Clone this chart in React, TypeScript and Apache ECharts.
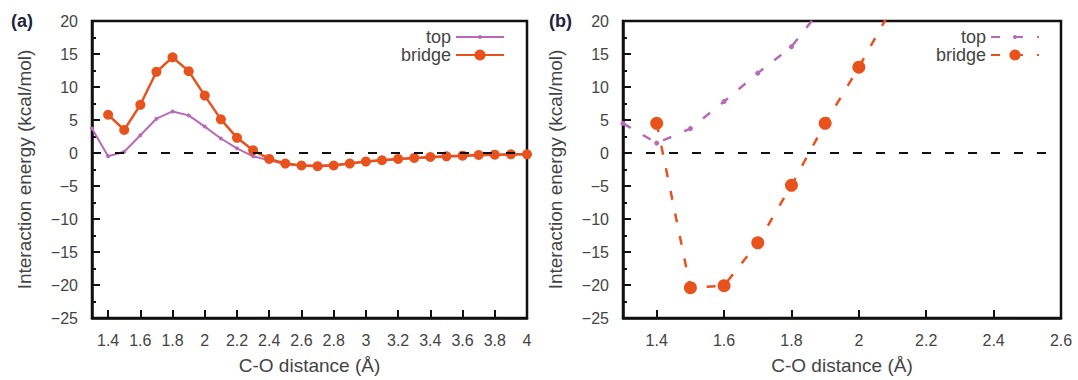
import React, { useEffect, useRef } from "react";
import * as echarts from "echarts";

// Panel (a)
const xTopA = [1.3, 1.4, 1.5, 1.6, 1.7, 1.8, 1.9, 2.0, 2.1, 2.2, 2.3, 2.4, 2.5, 2.6, 2.7, 2.8, 2.9, 3.0, 3.1, 3.2, 3.3, 3.4, 3.5, 3.6, 3.7, 3.8, 3.9, 4.0];
const yTopA = [3.7, -0.5, 0.2, 2.7, 5.2, 6.3, 5.7, 4.0, 2.2, 0.7, -0.5, -1.1, -1.7, -1.9, -1.9, -1.8, -1.6, -1.3, -1.1, -0.9, -0.8, -0.7, -0.55, -0.45, -0.35, -0.3, -0.25, -0.2];
const xBridgeA = [1.4, 1.5, 1.6, 1.7, 1.8, 1.9, 2.0, 2.1, 2.2, 2.3, 2.4, 2.5, 2.6, 2.7, 2.8, 2.9, 3.0, 3.1, 3.2, 3.3, 3.4, 3.5, 3.6, 3.7, 3.8, 3.9, 4.0];
const yBridgeA = [5.8, 3.5, 7.3, 12.3, 14.5, 12.4, 8.7, 5.1, 2.3, 0.4, -0.9, -1.6, -1.9, -2.0, -1.9, -1.6, -1.3, -1.1, -0.9, -0.75, -0.6, -0.5, -0.4, -0.3, -0.25, -0.2, -0.2];

// Panel (b)
const xTopB = [1.3, 1.4, 1.5, 1.6, 1.7, 1.8, 1.9];
const yTopB = [4.5, 1.5, 3.7, 7.8, 12.1, 16.1, 22.6];
const xBridgeB = [1.4, 1.5, 1.6, 1.7, 1.8, 1.9, 2.0, 2.1];
const yBridgeB = [4.5, -20.4, -20.1, -13.6, -4.9, 4.5, 13.0, 22.1];

const xTicksA = [1.4, 1.6, 1.8, 2.0, 2.2, 2.4, 2.6, 2.8, 3.0, 3.2, 3.4, 3.6, 3.8, 4.0];
const xTicksB = [1.4, 1.6, 1.8, 2.0, 2.2, 2.4, 2.6];

const TOP_COLOR = "#b86ab8";
const BRIDGE_COLOR = "#e8521c";
const FONT = "'Liberation Sans', Arial, sans-serif";

const zip = (xs: number[], ys: number[]) => xs.map((x, i) => [x, ys[i]]);

function xAxisCfg(gridIndex: number, max: number, ticks: number[]) {
  return {
    type: "value",
    gridIndex,
    min: 1.3,
    max,
    axisLine: { show: true, onZero: false, lineStyle: { color: "#111", width: 2.5 } },
    axisTick: { show: true, inside: true, length: 8, customValues: ticks, lineStyle: { color: "#111", width: 2 } },
    axisLabel: {
      customValues: ticks,
      formatter: (v: number) => String(+v.toFixed(1)),
      fontSize: 16,
      color: "#444",
      margin: 14,
      fontFamily: FONT,
    },
    splitLine: { show: false },
    name: "C-O distance (Å)",
    nameLocation: "middle",
    nameGap: 38,
    nameTextStyle: { fontSize: 19, color: "#444", fontFamily: FONT },
  };
}

function yAxisCfg(gridIndex: number) {
  return {
    type: "value",
    gridIndex,
    min: -25,
    max: 20,
    interval: 5,
    axisLine: { show: true, onZero: false, lineStyle: { color: "#111", width: 2.5 } },
    axisTick: { show: true, inside: true, length: 8, lineStyle: { color: "#111", width: 2 } },
    minorTick: { show: true, splitNumber: 2, length: 4, lineStyle: { color: "#111", width: 2 } },
    axisLabel: {
      formatter: (v: number) => (v < 0 ? "\u2212" + Math.abs(v) : String(v)),
      fontSize: 16,
      color: "#444",
      margin: 14,
      fontFamily: FONT,
    },
    splitLine: { show: false },
    name: "Interaction energy (kcal/mol)",
    nameLocation: "middle",
    nameGap: 58,
    nameRotate: 90,
    nameTextStyle: { fontSize: 19, color: "#444", fontFamily: FONT },
  };
}

const zeroLine = {
  silent: true,
  symbol: "none",
  label: { show: false },
  lineStyle: { color: "#111", type: [9, 14], width: 2 },
  data: [{ yAxis: 0 }],
};

function legendCfg(name: string, right: number, top: number, itemHeight: number) {
  return {
    data: [name],
    formatter: (n: string) => n.replace(/[AB]$/, ""),
    orient: "vertical",
    align: "right",
    right,
    top,
    itemWidth: 48,
    itemHeight,
    itemGap: 0,
    textStyle: { fontSize: 18, color: "#444", fontFamily: FONT },
  };
}

export default function App() {
  const ref = useRef<HTMLDivElement>(null);
  useEffect(() => {
    if (!ref.current) return;
    const chart = echarts.init(ref.current, undefined, { renderer: "svg" });
    chart.setOption({
      animation: false,
      backgroundColor: "#fff",
      grid: [
        { left: 92, right: 551, top: 21, bottom: 57, show: true, borderColor: "#111", borderWidth: 2.5 },
        { left: 623, right: 17, top: 21, bottom: 55, show: true, borderColor: "#111", borderWidth: 2.5 },
      ],
      xAxis: [xAxisCfg(0, 4, xTicksA), xAxisCfg(1, 2.6, xTicksB)],
      yAxis: [yAxisCfg(0), yAxisCfg(1)],
      legend: [
        legendCfg("topA", 568, 23, 5),
        legendCfg("bridgeA", 568, 41, 14),
        legendCfg("topB", 33, 23, 5),
        legendCfg("bridgeB", 33, 41, 14),
      ],
      graphic: [
        { type: "text", left: 11, top: 12, style: { text: "(a)", fontSize: 18, fontWeight: "bold", fill: "#1d2440", fontFamily: FONT } },
        { type: "text", left: 549, top: 12, style: { text: "(b)", fontSize: 18, fontWeight: "bold", fill: "#1d2440", fontFamily: FONT } },
      ],
      series: [
        {
          name: "topA",
          type: "line",
          xAxisIndex: 0,
          yAxisIndex: 0,
          data: zip(xTopA, yTopA),
          symbol: "circle",
          symbolSize: 4,
          showAllSymbol: true,
          itemStyle: { color: TOP_COLOR },
          lineStyle: { color: TOP_COLOR, width: 2 },
          markLine: zeroLine,
          z: 3,
        },
        {
          name: "bridgeA",
          type: "line",
          xAxisIndex: 0,
          yAxisIndex: 0,
          data: zip(xBridgeA, yBridgeA),
          symbol: "circle",
          symbolSize: 10,
          showAllSymbol: true,
          itemStyle: { color: BRIDGE_COLOR },
          lineStyle: { color: BRIDGE_COLOR, width: 2.5 },
          z: 4,
        },
        {
          name: "topB",
          type: "line",
          xAxisIndex: 1,
          yAxisIndex: 1,
          data: zip(xTopB, yTopB),
          symbol: "circle",
          symbolSize: 5,
          showAllSymbol: true,
          itemStyle: { color: TOP_COLOR },
          lineStyle: { color: TOP_COLOR, width: 2.5, type: [9, 14] },
          markLine: zeroLine,
          z: 3,
        },
        {
          name: "bridgeB",
          type: "line",
          xAxisIndex: 1,
          yAxisIndex: 1,
          data: zip(xBridgeB, yBridgeB),
          symbol: "circle",
          symbolSize: 13,
          showAllSymbol: true,
          itemStyle: { color: BRIDGE_COLOR },
          lineStyle: { color: BRIDGE_COLOR, width: 2.5, type: [9, 14] },
          z: 4,
        },
      ],
    });
    return () => chart.dispose();
  }, []);
  return <div ref={ref} style={{ position: "fixed", left: 0, top: 0, width: 1078, height: 380 }} />;
}
